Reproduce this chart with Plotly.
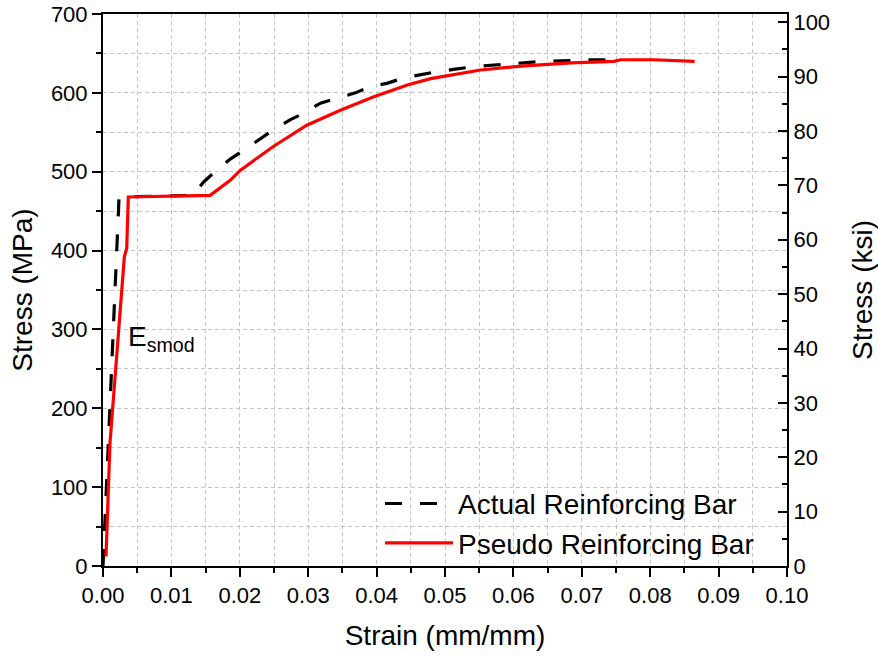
import plotly.graph_objects as go

# Measured stress-strain response of the reinforcing bar (MPa vs mm/mm)
actual_strain = [0.0, 0.00235, 0.0132, 0.0147, 0.0165, 0.0186, 0.0205, 0.0230, 0.0249,
                 0.0274, 0.0293, 0.0318, 0.0342, 0.0369, 0.0391, 0.0415, 0.0440, 0.0464,
                 0.0489, 0.0515, 0.0540, 0.0567, 0.0590, 0.0615, 0.0640, 0.0666, 0.0688,
                 0.0717, 0.0745]
actual_stress = [0, 468, 470, 487, 501, 516, 527, 542, 553,
                 566, 574, 587, 593, 600, 608, 612, 619, 623,
                 627, 630, 633, 635, 636, 638, 640, 640, 641,
                 642, 642]

# Pseudo (modified) reinforcing bar model
pseudo_strain = [0.00044, 0.00102, 0.00185, 0.00264, 0.00312, 0.00347, 0.0037, 0.01567,
                 0.0186, 0.0201, 0.0249, 0.0298, 0.0347, 0.0396, 0.0445, 0.0479, 0.0512,
                 0.0552, 0.0611, 0.0684, 0.0747, 0.0757, 0.0805, 0.0865]
pseudo_stress = [12, 156, 249, 342, 392, 403, 468, 470,
                 489, 502, 532, 559, 578, 595, 610, 618, 623,
                 629, 634, 638, 640, 642, 642, 640]

MPA_PER_KSI = 6.894757
STRESS_MAX_MPA = 700

FONT = "Arial, Liberation Sans, sans-serif"
GRID = "#c4c4c4"
GRID_DASH = "4px,3px"

fig = go.Figure()

fig.add_trace(go.Scatter(
    x=actual_strain, y=actual_stress, mode="lines",
    name="Actual Reinforcing Bar",
    line=dict(color="black", width=3.2, dash="17px,18px"),
))
fig.add_trace(go.Scatter(
    x=pseudo_strain, y=pseudo_stress, mode="lines",
    name="Pseudo Reinforcing Bar",
    line=dict(color="#ff0000", width=3.2),
))
# Invisible trace to attach the secondary (ksi) axis
fig.add_trace(go.Scatter(x=[0], y=[0], yaxis="y2", mode="markers",
                         marker=dict(opacity=0), showlegend=False, hoverinfo="skip"))

fig.add_annotation(
    x=0.0033, y=288, xref="x", yref="y",
    text="E<sub>smod</sub>", showarrow=False,
    xanchor="left", yanchor="middle",
    font=dict(family=FONT, size=28, color="black"),
)

axis_common = dict(
    showline=True, linecolor="black", linewidth=2,
    tickfont=dict(family=FONT, size=22, color="black"),
    zeroline=False, automargin=False,
)

fig.update_layout(
    template="none",
    width=878, height=660,
    margin=dict(l=103, r=91, t=14, b=94),
    paper_bgcolor="white", plot_bgcolor="white",
    font=dict(family=FONT, color="black"),
    xaxis=dict(
        **axis_common,
        range=[0, 0.10], dtick=0.01, tick0=0, tickformat=".2f",
        mirror=True, ticks="outside", ticklen=9, tickwidth=2, tickcolor="black",
        showgrid=True, gridcolor=GRID, gridwidth=1, griddash=GRID_DASH,
        minor=dict(dtick=0.005, ticks="outside", ticklen=5, tickwidth=2, tickcolor="black",
                   showgrid=True, gridcolor=GRID, gridwidth=1, griddash=GRID_DASH),
        title=dict(text="Strain (mm/mm)", font=dict(family=FONT, size=28), standoff=18),
    ),
    yaxis=dict(
        **axis_common,
        range=[0, STRESS_MAX_MPA], dtick=100, tick0=0,
        ticks="outside", ticklen=9, tickwidth=2, tickcolor="black",
        showgrid=True, gridcolor=GRID, gridwidth=1, griddash=GRID_DASH,
        minor=dict(dtick=50, ticks="outside", ticklen=5, tickwidth=2, tickcolor="black",
                   showgrid=True, gridcolor=GRID, gridwidth=1, griddash=GRID_DASH),
        title=dict(text="Stress (MPa)", font=dict(family=FONT, size=28), standoff=10),
    ),
    yaxis2=dict(
        **axis_common,
        overlaying="y", side="right", anchor="x",
        range=[0, STRESS_MAX_MPA / MPA_PER_KSI], dtick=10, tick0=0,
        ticks="inside", ticklen=9, tickwidth=2, tickcolor="black",
        showgrid=False,
        minor=dict(dtick=5, ticks="inside", ticklen=5, tickwidth=2, tickcolor="black",
                   showgrid=False),
        title=dict(text="Stress (ksi)", font=dict(family=FONT, size=28), standoff=24),
    ),
    legend=dict(
        x=0.405, y=0.158, xanchor="left", yanchor="top",
        bgcolor="rgba(0,0,0,0)", borderwidth=0,
        font=dict(family=FONT, size=28, color="black"),
        itemwidth=68, tracegroupgap=0,
    ),
    showlegend=True,
)

fig.write_html("out.html")
